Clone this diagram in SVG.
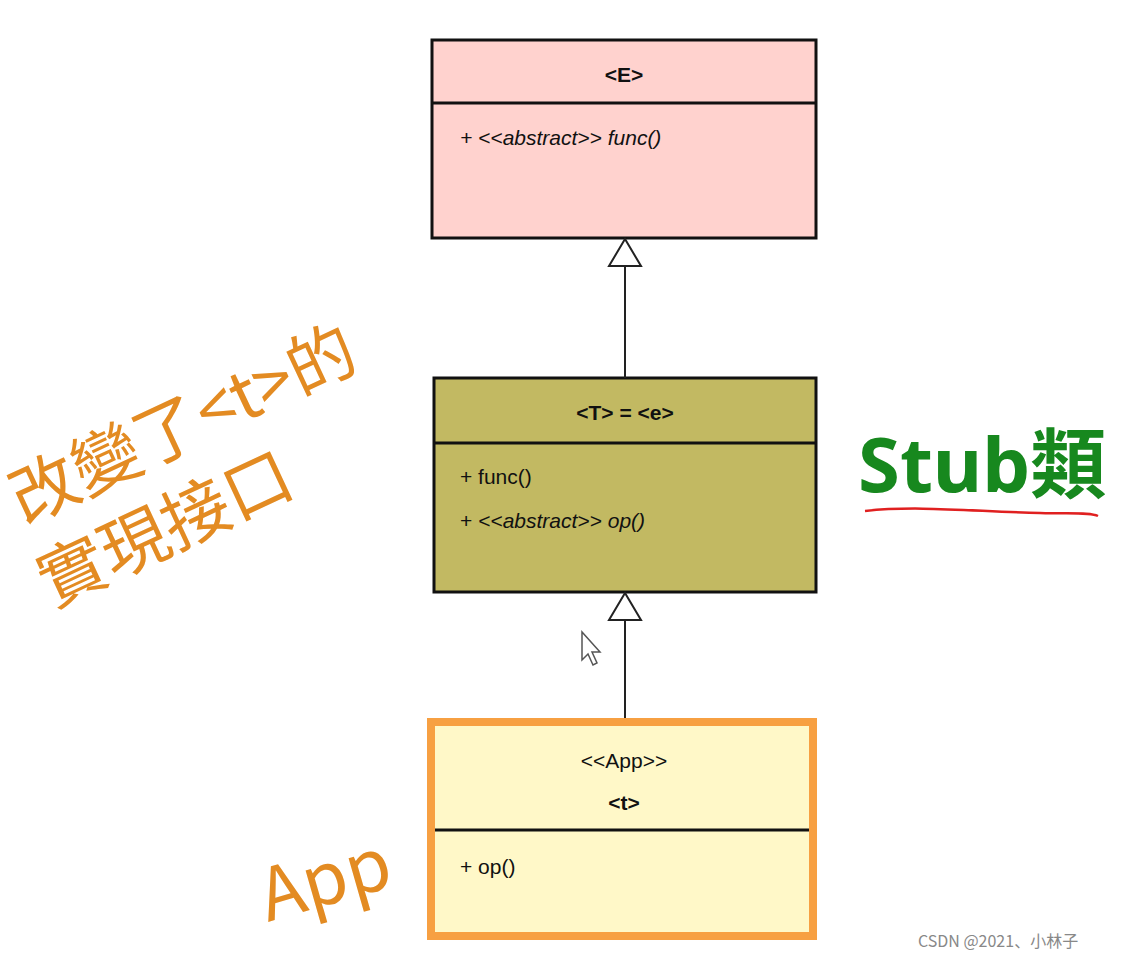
<svg xmlns="http://www.w3.org/2000/svg" width="1132" height="959" viewBox="0 0 1132 959">
<style>
.box{stroke:#111;stroke-width:3}
.t{font-family:"Liberation Sans",Arial,sans-serif;font-size:21px;fill:#111}
.b{font-weight:bold}
.i{font-style:italic}
.hand{font-family:"Noto Sans CJK TC","Noto Sans",sans-serif;fill:#E38B22}
</style>
<rect width="1132" height="959" fill="#fff"/>
<g id="E">
<rect class="box" x="432" y="40" width="384" height="198" fill="#FFD2CE"/>
<line class="box" x1="432" y1="103" x2="816" y2="103"/>
<text class="t b" x="624" y="82" text-anchor="middle">&lt;E&gt;</text>
<text class="t i" x="460" y="145">+ &lt;&lt;abstract&gt;&gt; func()</text>
</g>
<g id="T">
<rect class="box" x="434" y="378" width="382" height="214" fill="#C2B962"/>
<line class="box" x1="434" y1="443" x2="816" y2="443"/>
<text class="t b" x="625" y="420" text-anchor="middle">&lt;T&gt; = &lt;e&gt;</text>
<text class="t" x="460" y="484">+ func()</text>
<text class="t" x="460" y="528">+ <tspan class="i">&lt;&lt;abstract&gt;&gt; op()</tspan></text>
</g>
<g id="App">
<rect x="431" y="722" width="382" height="214" fill="#FFF8C8" stroke="#F7A042" stroke-width="8"/>
<line class="box" x1="435" y1="830" x2="809" y2="830" stroke-width="2"/>
<text class="t" x="624" y="768" text-anchor="middle">&lt;&lt;App&gt;&gt;</text>
<text class="t b" x="624" y="810" text-anchor="middle">&lt;t&gt;</text>
<text class="t" x="460" y="874">+ op()</text>
</g>
<g id="connectors" stroke="#222" stroke-width="2" fill="#fff">
<line x1="625" y1="266" x2="625" y2="378"/>
<polygon points="625,239 609,266 641,266"/>
<line x1="625" y1="620" x2="625" y2="718"/>
<polygon points="625,593 609,620 641,620"/>
</g>
<g id="annotations">
<text class="hand" font-size="68" transform="translate(24,525) rotate(-25)">改變了&lt;t&gt;的</text>
<text class="hand" font-size="68" transform="translate(52,608) rotate(-25)">實現接口</text>
<text class="hand" font-size="72" font-family="Noto Sans,sans-serif" transform="translate(268,922) rotate(-16)">App</text>
<text x="858" y="492" font-family="Noto Sans,'Noto Sans CJK TC',sans-serif" font-size="76" font-weight="bold" fill="#17881E">Stub類</text>
<path d="M865,511 C920,505 980,512 1040,513 C1070,514 1090,512 1098,516" stroke="#E02020" stroke-width="2.5" fill="none"/>
<path d="M582,632 L582,660 L588,654 L593,665 L597,663 L592,652 L600,652 Z" fill="#fff" stroke="#555" stroke-width="1.5"/>
<text x="918" y="947" font-family="'Noto Sans CJK SC','Liberation Sans',sans-serif" font-size="16" fill="#888">CSDN @2021、小林子</text>
</g>
</svg>
